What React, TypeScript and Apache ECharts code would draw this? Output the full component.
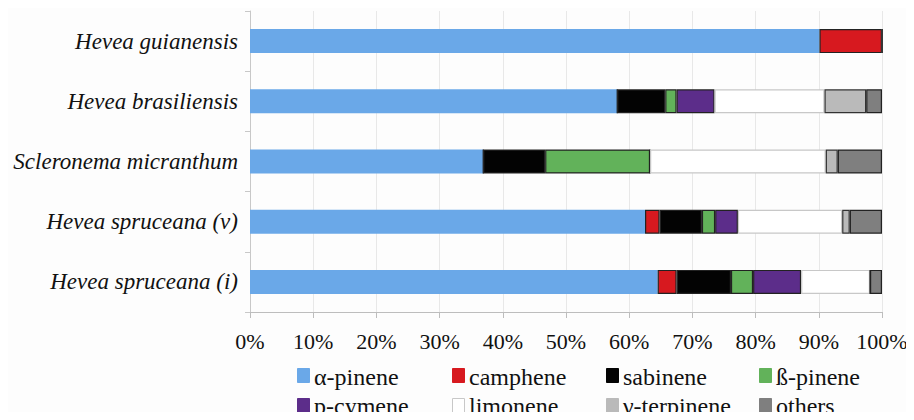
import React, { useEffect, useRef } from "react";
import * as echarts from "echarts";

const categories = [
  "Hevea guianensis",
  "Hevea brasiliensis",
  "Scleronema micranthum",
  "Hevea spruceana (v)",
  "Hevea spruceana (i)",
];

const compounds = ["α-pinene", "camphene", "sabinene", "ß-pinene", "p-cymene", "limonene", "γ-terpinene", "others"];

const alphaPinene = [90.1, 58.1, 36.9, 62.5, 64.5];
const camphene = [9.9, 0, 0, 2.3, 3.0];
const sabinene = [0, 7.6, 9.8, 6.7, 8.6];
const betaPinene = [0, 1.8, 16.6, 2.1, 3.5];
const pCymene = [0, 6.0, 0, 3.6, 7.6];
const limonene = [0, 17.4, 27.8, 16.5, 10.9];
const gammaTerpinene = [0, 6.6, 1.9, 1.2, 0];
const others = [0, 2.5, 7.0, 5.1, 1.9];

const xTicks = [0, 10, 20, 30, 40, 50, 60, 70, 80, 90, 100];

const seriesValues = [alphaPinene, camphene, sabinene, betaPinene, pCymene, limonene, gammaTerpinene, others];
const colors = ["#6aa8e8", "#d7191f", "#030303", "#62b25a", "#5c2d8a", "#ffffff", "#bababa", "#7f7f7f"];
const borders = ["#6aa8e8", "#222222", "#222222", "#222222", "#222222", "#c8c8c8", "#333333", "#222222"];
const legendBorders = ["#6aa8e8", "#d7191f", "#030303", "#62b25a", "#5c2d8a", "#c8c8c8", "#bababa", "#7f7f7f"];

const colLeft = [297, 452, 606, 759];
const rowIconTop = [368, 398];
const rowTextMid = [377, 406];

export default function App() {
  const ref = useRef<HTMLDivElement>(null);
  useEffect(() => {
    if (!ref.current) return;
    const chart = echarts.init(ref.current, null, { renderer: "svg" });
    const font = "Liberation Serif";
    chart.setOption({
      animation: false,
      backgroundColor: "#fdfdfd",
      grid: { left: 250, right: 32, top: 11, bottom: 108, containLabel: false },
      legend: compounds.map((c, i) => ({
        data: [{ name: c, itemStyle: { color: colors[i], borderColor: legendBorders[i], borderWidth: 1 } }],
        left: colLeft[i % 4],
        top: rowIconTop[Math.floor(i / 4)],
        padding: 0,
        icon: "rect",
        itemWidth: 12,
        itemHeight: 14,
        selectedMode: false,
        formatter: () => "",
      })),
      graphic: compounds.map((c, i) => ({
        type: "text",
        x: colLeft[i % 4] + 17,
        y: rowTextMid[Math.floor(i / 4)],
        silent: true,
        style: {
          text: c,
          font: "24px 'Liberation Serif', 'Times New Roman', serif",
          fill: "#111111",
          verticalAlign: "middle",
          align: "left",
        },
      })),
      xAxis: {
        type: "value",
        min: 0,
        max: 100,
        interval: 10,
        axisLine: { show: true, lineStyle: { color: "#bdbdbd", width: 1 } },
        axisTick: { show: true, length: 6, lineStyle: { color: "#bdbdbd" } },
        splitLine: { show: true, lineStyle: { color: "#e8e8e8", width: 1 } },
        axisLabel: {
          fontFamily: font,
          fontSize: 22,
          color: "#111",
          margin: 18,
          formatter: (v: number) => (xTicks.includes(v) ? v + "%" : ""),
        },
      },
      yAxis: {
        type: "category",
        data: categories,
        inverse: true,
        axisLine: { show: true, lineStyle: { color: "#c8c8c8" } },
        axisTick: { show: true, length: 5, lineStyle: { color: "#c8c8c8" } },
        splitLine: { show: false },
        axisLabel: { fontFamily: font, fontSize: 23, fontStyle: "italic", color: "#111", margin: 12 },
      },
      series: compounds.map((c, i) => ({
        name: c,
        type: "bar",
        stack: "total",
        barWidth: 24,
        data: seriesValues[i],
        itemStyle: { color: colors[i], borderColor: borders[i], borderWidth: i === 0 ? 0 : 1.2 },
        emphasis: { disabled: true },
      })),
    });
    return () => chart.dispose();
  }, []);
  return <div ref={ref} style={{ width: 914, height: 420, margin: -8 }} />;
}
